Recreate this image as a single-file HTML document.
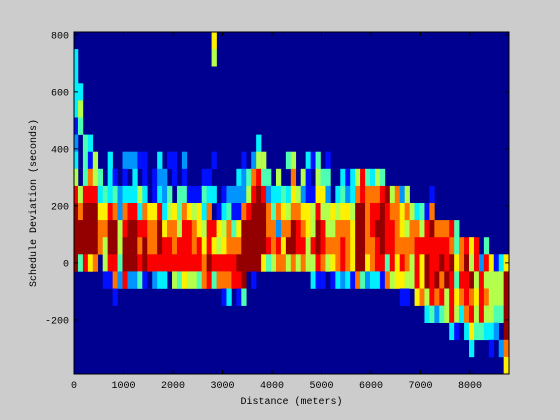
<!DOCTYPE html>
<html><head><meta charset="utf-8"><style>
html,body{margin:0;padding:0;background:#cccccc;}
svg{display:block;font-family:"Liberation Mono",monospace;font-size:10px;}
</style></head><body>
<svg id="chart" width="560" height="420" viewBox="0 0 560 420" xmlns="http://www.w3.org/2000/svg">
<rect x="0" y="0" width="560" height="420" fill="#cccccc"/>
<g id="cells"></g>
<g id="axes"></g>
</svg>
<script>
// distance bins (m), each 100 m wide, start offsets
const binStarts = Array.from({length: 88}, (_, i) => i * 100 - 20);
// deviation row centres (s), 60 s bins
const rowCenters = [780,720,660,600,540,480,420,360,300,240,180,120,60,0,-60,-120,-180,-240,-300,-360];
// colour-level per column (rows top->bottom), 0 = none .. 9 = max
const columnLevels = [
"03333123589999000000","00035400057994000000","00000044489998000000","00000031789996000000",
"00000005589997000000","00000000436770000000","00000000046755100000","00000003338998100000",
"00000000147998710000","00000000022554200000","00000002137899800000","00000002038999200000",
"00000002338999200000","00000001053878400000","00000001137899100000","00000000006778000000",
"00000000116778200000","00000003238998300000","00000000223688300000","00000001045788000000",
"00000001106778500000","00000000044588400000","00000002147888600000","00000000016888500000",
"00000000015778500000","00000000016688400000","00000000143567700000","00000000137889800000",
"65000001030868400000","00000000001658700000","00000000013568710000","00000000024778730000",
"00000000021478800000","00000000321679810000","00000001227999940000","00000000458999000000",
"00000002789999100000","00000035899999000000","00000005489996000000","00000000427784000000",
"00000000034775000000","00000000537287000000","00000000046767000000","00000004035795000000",
"00000005767997000000","00000000057885000000","00000000526787000000","00000003116655000000",
"00000001015585300000","00000004568998100000","00000000465887100000","00000001425575000000",
"00000000006576100000","00000000035777300000","00000000346788200000","00000000126777300000",
"00000000335666100000","00000000579999700000","00000000889999400000","00000000477776200000",
"00000000378877300000","00000000578988300000","00000000489998100000","00000000098884700000",
"00000000057888500000","00000000077776600000","00000000026678610000","00000000057577510000",
"00000000005775500000","00000000003788860000","00000000004586670000","00000000001889953000",
"00000000017988884000","00000000000788972000","00000000000789784000","00000000000788955000",
"00000000000879888300","00000000000446465100","00000000000077873000","00000000000089887300",
"00000000000065978630","00000000000088565400","00000000000002888400","00000000000048575300",
"00000000000006555310","00000000000001554200","00000000000003554020","00000000000006999976"
];
const levelValues = [0.016,0.14,0.27,0.36,0.45,0.55,0.64,0.76,0.88,0.98];
const xTicks = [0,1000,2000,3000,4000,5000,6000,7000,8000];
const yTicks = [-200,0,200,400,600,800];

const X0 = 74, X1 = 509, Y0 = 32, Y1 = 374;
const xMin = 0, xMax = (X1 - X0) / 0.0495;
const yMin = -390, yMax = 810;
function xScale(m){ return X0 + (m - xMin) / (xMax - xMin) * (X1 - X0); }
function yScale(s){ return Y1 - (s - yMin) / (yMax - yMin) * (Y1 - Y0); }
function jet(v){
  const c = t => Math.round(255 * Math.max(0, Math.min(1, t)));
  return `rgb(${c(1.5-Math.abs(4*v-3))},${c(1.5-Math.abs(4*v-2))},${c(1.5-Math.abs(4*v-1))})`;
}
const NS = "http://www.w3.org/2000/svg";
const cells = document.getElementById('cells');
const bg = document.createElementNS(NS,'rect');
bg.setAttribute('x', X0); bg.setAttribute('y', Y0);
bg.setAttribute('width', X1-X0); bg.setAttribute('height', Y1-Y0);
bg.setAttribute('fill', jet(levelValues[0]));


cells.appendChild(bg);
columnLevels.forEach((col, i) => {
  const xa = Math.max(X0, xScale(binStarts[i])), xb = Math.min(X1, xScale(binStarts[i] + 100));
  for (let r = 0; r < rowCenters.length; r++) {
    const lv = +col[r];
    if (lv === 0) continue;
    const ya = yScale(rowCenters[r] + 30), yb = yScale(rowCenters[r] - 30);
    const rc = document.createElementNS(NS,'rect');
    rc.setAttribute('x', xa.toFixed(2)); rc.setAttribute('y', ya.toFixed(2));
    rc.setAttribute('width', (xb - xa + 0.3).toFixed(2)); rc.setAttribute('height', (yb - ya + 0.3).toFixed(2));
    rc.setAttribute('fill', jet(levelValues[lv]));
    
    
    cells.appendChild(rc);
  }
});
const axes = document.getElementById('axes');
function add(tag, attrs, text){
  const e = document.createElementNS(NS, tag);
  for (const k in attrs) e.setAttribute(k, attrs[k]);
  if (text !== undefined) e.textContent = text;
  axes.appendChild(e); return e;
}
const box = add('rect', {x:X0, y:Y0, width:X1-X0, height:Y1-Y0, fill:'none', stroke:'#000', 'stroke-width':1});


xTicks.forEach(t => {
  const x = xScale(t);
  const t1 = add('line', {x1:x, x2:x, y1:Y1, y2:Y1-4, stroke:'#000'});
  
  
  const t2 = add('line', {x1:x, x2:x, y1:Y0, y2:Y0+4, stroke:'#000'});
  
  
  const lb = add('text', {x:x, y:Y1+14, 'text-anchor':'middle', fill:'#000'}, String(t));
  
  
});
yTicks.forEach(t => {
  const y = yScale(t);
  const t1 = add('line', {x1:X0, x2:X0+4, y1:y, y2:y, stroke:'#000'});
  
  
  const t2 = add('line', {x1:X1, x2:X1-4, y1:y, y2:y, stroke:'#000'});
  
  
  const lb = add('text', {x:X0-5, y:y+3.5, 'text-anchor':'end', fill:'#000'}, String(t));
  
  
});
const xt = add('text', {x:(X0+X1)/2, y:404, 'text-anchor':'middle', fill:'#000'}, 'Distance (meters)');


const yt = add('text', {x:0, y:0, 'text-anchor':'middle', fill:'#000', transform:`translate(36,${(Y0+Y1)/2}) rotate(-90)`}, 'Schedule Deviation (seconds)');


</script>
</body></html>
